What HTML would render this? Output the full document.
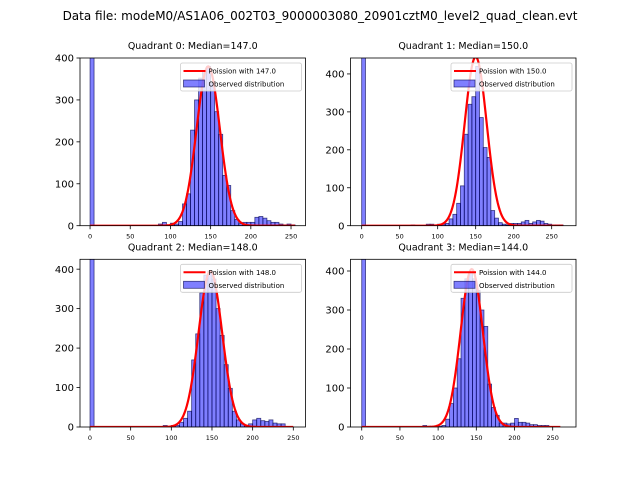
<!DOCTYPE html>
<html><head><meta charset="utf-8">
<style>
html,body{margin:0;padding:0;background:#fff;}
svg{display:block;font-family:"DejaVu Sans","Liberation Sans",sans-serif;}
</style></head>
<body>
<svg id="fig" width="640" height="480" viewBox="0 0 640 480" xmlns="http://www.w3.org/2000/svg">
<rect width="640" height="480" fill="#fff"/>
<text x="320" y="20" text-anchor="middle" font-size="12">Data file: modeM0/AS1A06_002T03_9000003080_20901cztM0_level2_quad_clean.evt</text>
</svg>
<script>
const binWidth = 5;
const q0Counts = [1000,0,0,0,0,0,0,0,0,0,0,0,0,0,0,0,0,4,8,2,6,4,10,52,76,228,300,352,370,380,340,272,218,120,96,36,15,5,8,8,8,20,22,18,12,8,8,4,2,4,2];
const q1Counts = [1000,0,0,0,0,0,0,0,0,0,0,0,0,2,0,0,0,4,4,2,4,4,6,18,30,59,105,241,320,340,420,285,206,180,40,20,8,4,2,6,6,6,10,14,6,10,14,12,6,4,2,2,2];
const q2Counts = [1000,0,0,0,0,0,0,0,0,0,0,0,0,0,0,0,0,0,4,0,4,4,12,22,40,170,236,340,385,395,375,300,232,158,98,40,18,8,4,8,18,22,16,14,18,10,8,8];
const q3Counts = [1000,0,0,0,0,0,0,0,0,0,0,0,0,0,0,0,4,2,2,2,2,4,20,60,100,175,330,380,395,380,350,300,258,110,50,30,10,10,8,10,22,12,12,10,6,6,4,4,4];
const medians = [147.0, 150.0, 148.0, 144.0];
const curvePeaks = [380, 445, 395, 405];
const curveWidths = [14.5, 14.5, 14.5, 14.5];
const curveEnds = [255, 265, 250, 260];
const xLimits = [[-12.5,268],[-14.7,282],[-12.3,265],[-14.7,280.5]];
const yLimits = [[0,400],[0,442],[0,425],[0,430]];
const xTicks = [0,50,100,150,200,250];
const yTicks = [0,100,200,300,400];

const NS = "http://www.w3.org/2000/svg";
const svg = document.getElementById('fig');
function mk(tag, attrs, parent){
  const e = document.createElementNS(NS, tag);
  for (const k in attrs) e.setAttribute(k, attrs[k]);
  (parent||svg).appendChild(e);
  return e;
}
const boxes = [[80,58,305.5,225.7],[350.5,58,576,225.7],[80,259.3,305.5,427],[350.5,259.3,576,427]];
const allCounts = [q0Counts,q1Counts,q2Counts,q3Counts];

boxes.forEach((b,qi)=>{
  const [L,T,R,B] = b;
  const [x0,x1] = xLimits[qi], [y0,y1] = yLimits[qi];
  const sx = v => L + (v-x0)/(x1-x0)*(R-L);
  const sy = v => B - (v-y0)/(y1-y0)*(B-T);
  const g = mk('g', {});
  
  
  const cid = 'clip'+qi;
  const cp = mk('clipPath', {id:cid}, g);
  mk('rect', {x:L,y:T,width:R-L,height:B-T}, cp);
  const title = mk('text', {x:(L+R)/2, y:T-9, 'text-anchor':'middle','font-size':'9.5'}, g);
  title.textContent = 'Quadrant ' + qi + ': Median=' + medians[qi].toFixed(1);
  
  
  const plot = mk('g', {'clip-path':'url(#'+cid+')'}, g);
  const counts = allCounts[qi];
  counts.forEach((c,i)=>{
    if (c <= 0) return;
    const xa = sx(i*binWidth), xb = sx((i+1)*binWidth);
    const r = mk('rect', {x:xa, y:sy(c), width:xb-xa, height:sy(0)-sy(c), fill:'rgba(0,0,255,0.5)', stroke:'rgba(0,0,80,0.7)', 'stroke-width':'0.8'}, plot);
    
    
  });
  const lam = medians[qi], sg = curveWidths[qi];
  let d = '';
  for (let k=0; k<=curveEnds[qi]; k++){
    const v = curvePeaks[qi]*Math.exp(-0.5*((k-lam)/sg)**2);
    d += (k?'L':'M') + sx(k).toFixed(2) + ',' + sy(v).toFixed(2);
  }
  const curve = mk('path', {d:d, fill:'none', stroke:'#ff0000', 'stroke-width':'2.2'}, plot);
  
  
  mk('rect', {x:L,y:T,width:R-L,height:B-T,fill:'none',stroke:'#000','stroke-width':'0.8'}, g);
  xTicks.forEach(t=>{
    const x = sx(t);
    mk('line', {x1:x,x2:x,y1:B,y2:B+3.5,stroke:'#000','stroke-width':'0.8'}, g);
    const tl = mk('text', {x:x, y:B+13, 'text-anchor':'middle','font-size':'6.5'}, g);
    tl.textContent = t;
    
    
  });
  yTicks.forEach(t=>{
    const y = sy(t);
    mk('line', {x1:L-3.5,x2:L,y1:y,y2:y,stroke:'#000','stroke-width':'0.8'}, g);
    const tl = mk('text', {x:L-6, y:y+3.6, 'text-anchor':'end','font-size':'10'}, g);
    tl.textContent = t;
    
    
  });
  const lx = R-125, ly = T+5;
  const lg = mk('g', {}, g);
  
  
  mk('rect', {x:lx,y:ly,width:121,height:28,rx:2,fill:'rgba(255,255,255,0.8)',stroke:'#ccc','stroke-width':'0.8'}, lg);
  mk('line', {x1:lx+3,x2:lx+25,y1:ly+8,y2:ly+8,stroke:'#ff0000','stroke-width':'2'}, lg);
  const t1 = mk('text', {x:lx+28,y:ly+10.5,'font-size':'7'}, lg);
  t1.textContent = 'Poission with ' + medians[qi].toFixed(1);
  
  
  mk('rect', {x:lx+3,y:ly+17,width:21,height:7,fill:'rgba(0,0,255,0.5)',stroke:'rgba(0,0,80,0.7)','stroke-width':'0.8'}, lg);
  const t2 = mk('text', {x:lx+28,y:ly+23.5,'font-size':'7'}, lg);
  t2.textContent = 'Observed distribution';
  
  
});
</script>
</body></html>
